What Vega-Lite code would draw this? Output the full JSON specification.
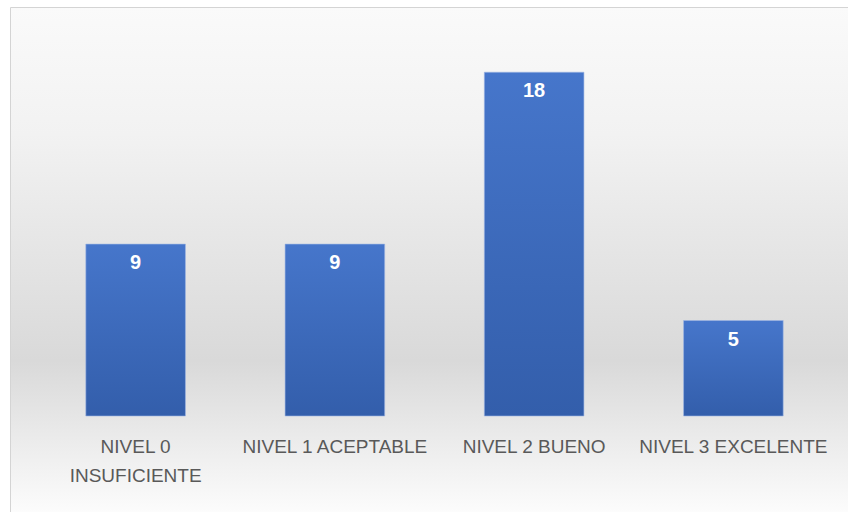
{
  "$schema": "https://vega.github.io/schema/vega-lite/v6.json",
  "autosize": "none",
  "padding": {"left": 10, "top": 7, "right": 0, "bottom": 0},
  "width": 838,
  "height": 505,
  "background": "white",
  "view": {
    "stroke": "#d4d4d4",
    "strokeWidth": 1,
    "fill": {
      "gradient": "linear",
      "x1": 0, "y1": 0, "x2": 0, "y2": 1,
      "stops": [
        {"offset": 0, "color": "#fafafa"},
        {"offset": 0.25, "color": "#f2f2f2"},
        {"offset": 0.7, "color": "#d9d9d9"},
        {"offset": 1, "color": "#fcfcfc"}
      ]
    }
  },
  "data": {
    "values": [
      {"nivel": "NIVEL 0 INSUFICIENTE", "n": 9},
      {"nivel": "NIVEL 1 ACEPTABLE", "n": 9},
      {"nivel": "NIVEL 2 BUENO", "n": 18},
      {"nivel": "NIVEL 3 EXCELENTE", "n": 5}
    ]
  },
  "encoding": {
    "x": {
      "field": "nivel",
      "type": "nominal",
      "sort": null,
      "scale": {"range": [26, 823], "paddingInner": 0.5, "paddingOuter": 0.25},
      "axis": {
        "title": null,
        "orient": "bottom",
        "offset": -96,
        "domain": false,
        "ticks": false,
        "grid": false,
        "labelAngle": 0,
        "labelFont": "Liberation Sans",
        "labelFontSize": 19,
        "labelColor": "#595959",
        "labelPadding": 21,
        "labelLineHeight": 29,
        "labelLimit": 0,
        "labelExpr": "datum.value == 'NIVEL 0 INSUFICIENTE' ? ['NIVEL 0', 'INSUFICIENTE'] : datum.value"
      }
    },
    "y": {
      "field": "n",
      "type": "quantitative",
      "scale": {"domain": [-5.026, 21.414], "nice": false, "zero": false},
      "axis": null
    }
  },
  "layer": [
    {
      "mark": {
        "type": "bar",
        "stroke": "#9fb6e3",
        "strokeWidth": 1,
        "strokeOpacity": 0.6,
        "color": {
          "gradient": "linear",
          "x1": 0, "y1": 0, "x2": 0, "y2": 1,
          "stops": [
            {"offset": 0, "color": "#4676cb"},
            {"offset": 1, "color": "#335eab"}
          ]
        }
      },
      "encoding": {"y2": {"datum": 0}}
    },
    {
      "mark": {
        "type": "text",
        "baseline": "alphabetic",
        "align": "center",
        "dy": 25,
        "font": "Liberation Sans",
        "fontSize": 20,
        "fontWeight": "bold",
        "color": "white"
      },
      "encoding": {"text": {"field": "n", "type": "quantitative"}}
    }
  ]
}
